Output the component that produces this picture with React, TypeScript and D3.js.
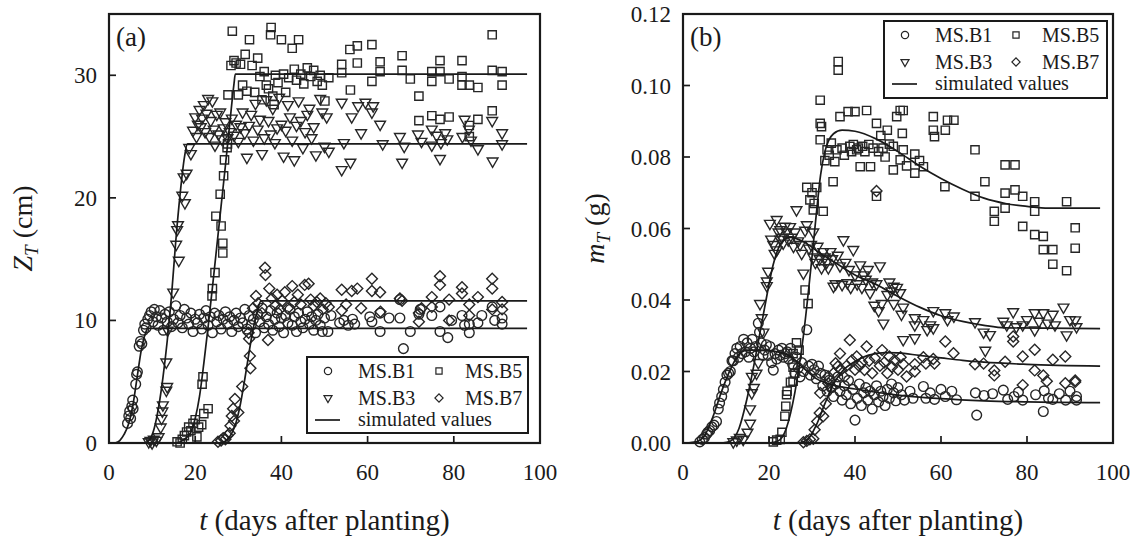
import React from 'react';
import * as d3 from 'd3';

// ---------- axes / ticks ----------
const tTicks = [0, 20, 40, 60, 80, 100];
const zTicks = [0, 10, 20, 30];
const mTicks = [0, 0.02, 0.04, 0.06, 0.08, 0.1, 0.12];
const seriesNames = ['MS.B1', 'MS.B3', 'MS.B5', 'MS.B7'];
const simLabel = 'simulated values';

// ---------- panel (a): Z_T (cm) observed ----------
const aB1: [number, number][] = [[4.3,1.6],[4.6,2.2],[4.8,2.6],[5.0,2.0],[5.3,3.0],[5.5,3.5],[5.6,2.8],[6.2,4.8],[6.4,5.6],[6.6,5.8],[7.0,7.9],[7.3,8.3],[7.6,8.1],[8.0,9.2],[8.3,9.7],[8.6,9.4],[9.0,10.1],[9.4,10.4],[9.8,10.7],[10.2,9.9],[10.5,10.9],[11.0,10.3],[11.4,9.6],[11.8,10.8],[12.2,10.2],[12.6,9.2],[13.0,10.5],[13.5,9.9],[14.0,10.7],[14.5,9.5],[15.0,10.1],[15.5,11.2],[16.0,9.8],[16.5,10.4],[17.0,9.4],[17.5,10.9],[18.0,10.2],[18.5,9.7],[19.0,10.6],[19.5,9.1],[20.0,10.1],[20.5,9.8],[21.0,10.5],[21.5,9.3],[22.0,10.2],[22.5,10.8],[23.0,9.6],[23.5,10.3],[24.0,9.0],[24.5,10.6],[25.0,9.9],[25.5,10.4],[26.0,9.3],[26.5,10.1],[27.0,10.7],[27.5,9.7],[28.0,10.3],[28.5,9.1],[29.0,10.0],[29.5,10.6],[30.0,9.5],[30.5,10.2],[31.0,9.8],[31.5,10.9],[32.0,9.3],[32.5,10.4],[33.0,9.6],[33.5,10.1],[34.0,9.0],[34.5,10.5],[35.0,9.9],[35.5,11.0],[36.0,9.4],[36.5,10.3],[37.0,9.7],[37.5,10.8],[38.0,9.2],[38.5,10.1],[39.0,10.6],[39.5,9.5],[40.0,10.2],[40.5,9.0],[41.0,10.4],[41.5,9.8],[42.0,10.9],[42.5,9.6],[43.0,10.3],[43.5,9.1],[44.0,10.6],[44.5,9.9],[45.0,9.4],[45.5,10.1],[46.0,10.7],[46.5,9.7],[47.0,10.3],[47.5,9.2],[48.0,10.0],[48.5,10.5],[49.0,9.6],[49.5,9.1],[50.0,10.2],[50.8,9.1],[51.5,10.4],[53.5,9.8],[54.5,10.0],[55.5,9.6],[56.5,10.1],[57.0,9.7],[60.5,10.3],[61.0,9.9],[62.9,9.1],[62.9,10.6],[65.0,10.2],[67.5,10.2],[67.5,11.7],[68.3,7.7],[69.9,9.1],[71.9,10.5],[72.2,10.9],[74.9,10.4],[76.8,11.1],[76.8,9.1],[78.6,8.6],[79.5,10.0],[81.9,10.4],[82.5,9.6],[83.6,9.7],[83.6,9.0],[85.6,9.8],[86.5,10.4],[88.9,11.1],[89.5,10.0],[91.2,9.7],[91.2,10.2]];
const aB3: [number, number][] = [[9.2,0.1],[9.6,0.2],[10.0,0.0],[10.4,0.3],[11.0,0.2],[11.5,0.5],[12.0,1.3],[12.2,2.0],[12.5,3.1],[12.4,2.6],[13.3,4.3],[13.5,4.6],[13.3,6.6],[13.6,9.2],[14.9,12.3],[15.6,16.2],[15.8,17.4],[16.0,17.8],[16.2,14.9],[17.0,20.2],[17.3,21.7],[17.6,19.6],[18.0,22.0],[18.6,24.1],[19.0,23.6],[19.5,25.5],[20.0,26.6],[20.3,25.0],[20.6,26.0],[21.0,27.2],[21.3,25.8],[21.6,26.5],[22.0,27.6],[22.3,25.4],[22.6,26.9],[23.0,28.1],[23.3,25.0],[23.6,26.3],[24.0,27.9],[24.3,25.6],[24.6,24.3],[25.0,26.8],[25.4,25.2],[25.8,27.0],[26.2,24.8],[26.6,25.7],[27.0,26.2],[27.5,24.9],[28.0,25.4],[28.5,26.5],[29.0,25.1],[29.5,26.0],[30.0,24.6],[30.5,25.8],[31.0,27.0],[31.5,25.3],[32.0,23.3],[32.5,25.9],[33.0,26.8],[33.5,24.7],[34.0,27.7],[34.5,25.6],[35.0,26.4],[35.5,23.6],[36.0,24.9],[36.5,28.0],[37.0,26.3],[37.5,25.2],[38.0,27.3],[38.5,24.5],[39.0,25.7],[39.5,28.2],[40.0,26.0],[40.5,23.4],[41.0,25.5],[41.5,27.6],[42.0,26.6],[42.5,24.7],[43.0,23.1],[43.5,25.9],[44.0,27.9],[44.5,26.3],[45.0,24.1],[45.5,25.4],[46.0,26.8],[46.5,27.3],[47.0,24.9],[47.5,25.8],[48.0,23.5],[49.0,28.1],[49.5,27.0],[50.0,24.2],[50.5,26.6],[51.0,23.8],[54.0,27.8],[54.0,22.3],[54.5,24.5],[56.0,22.9],[56.3,26.6],[57.8,27.5],[58.5,25.3],[59.5,27.8],[61.0,27.0],[61.3,27.5],[62.9,26.0],[63.5,24.4],[67.5,25.0],[68.0,22.9],[68.5,24.2],[71.7,25.2],[72.5,24.6],[74.9,25.6],[74.9,24.3],[76.0,25.1],[76.8,23.2],[77.0,24.5],[78.0,25.3],[78.5,24.8],[82.0,25.0],[82.5,26.4],[83.5,25.6],[84.0,24.7],[85.6,24.0],[88.9,26.3],[89.0,23.0],[91.2,25.3],[91.2,24.4]];
const aB5: [number, number][] = [[15.8,0.1],[16.5,0.0],[17.0,0.3],[17.5,0.6],[18.0,0.9],[18.5,1.3],[19.0,1.0],[19.5,1.6],[20.0,1.9],[20.4,0.5],[20.8,1.3],[21.5,1.5],[21.6,4.8],[21.8,5.4],[22.0,2.4],[23.0,2.8],[23.9,12.0],[24.0,12.6],[24.6,13.9],[24.8,18.5],[25.8,20.3],[26.0,17.7],[26.4,16.3],[26.4,15.5],[26.6,21.8],[26.8,23.1],[27.4,24.1],[27.5,24.4],[27.6,28.4],[28.3,30.8],[28.6,33.6],[29.0,31.2],[29.5,31.0],[30.0,28.4],[30.5,30.9],[31.0,29.2],[31.6,31.7],[32.0,28.7],[32.6,32.9],[33.2,30.8],[33.8,28.6],[34.5,31.4],[35.0,29.9],[35.5,28.0],[36.0,30.3],[36.5,29.2],[37.0,28.9],[37.5,33.3],[37.6,33.9],[38.0,28.3],[38.3,27.6],[38.6,30.0],[39.2,29.4],[40.0,32.9],[40.5,30.1],[41.0,28.6],[41.7,29.8],[42.5,32.2],[43.0,30.5],[43.5,29.6],[44.0,32.9],[44.5,30.1],[45.2,29.3],[46.0,30.6],[46.8,29.9],[47.5,30.4],[48.3,29.5],[49.0,30.0],[49.5,29.2],[50.1,27.9],[51.0,29.8],[54.0,30.9],[54.0,30.2],[55.9,32.1],[56.0,28.8],[57.6,32.4],[57.6,31.0],[61.0,32.5],[61.0,29.5],[62.9,31.1],[62.9,30.3],[68.0,31.6],[68.0,30.4],[69.9,29.7],[71.9,28.3],[71.9,26.3],[74.9,29.5],[74.9,30.3],[74.9,26.7],[76.8,31.2],[76.8,30.3],[76.8,26.4],[78.9,29.7],[78.9,26.6],[81.9,31.2],[81.9,29.9],[81.9,29.2],[83.6,29.2],[83.6,25.9],[83.6,25.0],[85.6,29.0],[85.6,26.4],[88.9,33.3],[88.9,30.4],[88.9,27.1],[91.2,30.3],[91.2,29.2]];
const aB7: [number, number][] = [[25.3,0.1],[26.0,0.2],[26.5,0.4],[27.0,0.3],[27.5,0.6],[28.0,0.8],[28.2,1.4],[28.5,2.2],[28.8,2.8],[29.0,1.8],[29.2,3.6],[30.0,2.5],[30.9,4.6],[32.4,9.0],[32.5,8.5],[32.7,7.1],[32.8,6.1],[33.4,11.0],[34.1,12.0],[34.6,11.4],[35.5,10.6],[36.2,14.3],[36.3,13.7],[36.9,8.4],[37.2,12.6],[37.8,11.8],[38.5,11.2],[39.0,12.1],[39.6,10.9],[40.2,11.6],[40.8,12.3],[41.5,11.0],[42.5,12.8],[43.0,11.5],[43.8,12.1],[44.5,11.3],[45.4,12.9],[46.3,13.0],[46.8,11.7],[47.5,11.2],[48.2,11.5],[49.0,11.8],[49.6,10.9],[50.3,11.4],[51.0,11.1],[54.0,12.5],[54.0,10.8],[55.0,11.3],[56.3,12.4],[57.6,12.6],[58.5,11.0],[61.0,13.4],[61.0,12.4],[62.9,12.3],[63.0,10.7],[67.5,11.8],[68.0,11.6],[71.9,10.6],[71.9,9.9],[72.5,11.0],[74.9,11.9],[74.9,11.1],[76.8,13.6],[76.8,12.9],[78.9,11.7],[78.9,10.0],[81.9,12.7],[81.9,12.2],[83.6,11.3],[83.6,10.4],[85.6,11.9],[88.9,13.4],[88.9,12.6],[88.9,10.9],[91.2,10.9],[91.2,11.5]];

// ---------- panel (a): simulated ----------
const aSimB1: [number, number][] = [[1.4,0],[2.5,0.2],[3.5,0.7],[4.5,1.5],[5.5,3.0],[6.5,5.3],[7.5,7.6],[8.5,9.0],[9.0,9.35],[97,9.35]];
const aSimB3: [number, number][] = [[8.4,0],[9.5,0.3],[10.5,1.2],[11.5,2.9],[12.5,5.3],[13.5,8.3],[14.5,12],[15.5,16.5],[16.5,20.3],[17.5,23.3],[18.2,24.4],[97,24.4]];
const aSimB5: [number, number][] = [[15.7,0],[17.5,0.3],[19,0.9],[20,2],[21,3.8],[22,6.5],[23,9.5],[24,12.7],[25,16],[26,19.3],[27,22.6],[28,26],[29,29.3],[29.3,30.1],[97,30.1]];
const aSimB7: [number, number][] = [[26,0],[27.5,0.3],[28.5,0.8],[29.5,1.7],[30.5,3.2],[31.5,5.2],[32.5,7.4],[33.5,9.4],[34.5,10.9],[35.3,11.6],[97,11.6]];

// ---------- panel (b): m_T (g) observed ----------
const bB1: [number, number][] = [[3.9,0.0003],[4.5,0.001],[5.0,0.0015],[5.5,0.0025],[5.8,0.003],[6.2,0.0035],[6.7,0.0045],[7.2,0.005],[7.8,0.006],[8.2,0.0095],[8.5,0.0112],[9.0,0.013],[9.4,0.015],[9.8,0.017],[10.2,0.019],[10.6,0.0195],[11.0,0.020],[11.4,0.023],[11.7,0.023],[12.1,0.025],[12.5,0.0265],[12.9,0.024],[13.3,0.027],[13.7,0.025],[14.1,0.029],[14.5,0.0255],[14.9,0.028],[15.3,0.024],[15.7,0.0265],[16.1,0.029],[16.5,0.0255],[16.9,0.027],[17.5,0.0335],[17.8,0.031],[18.2,0.028],[18.6,0.0245],[19.0,0.026],[19.4,0.0275],[19.8,0.0245],[20.2,0.027],[20.6,0.0225],[21.0,0.0204],[21.4,0.025],[21.8,0.0235],[22.2,0.026],[22.6,0.0245],[23.0,0.0265],[23.4,0.024],[23.8,0.025],[24.2,0.0255],[24.6,0.0235],[25.0,0.0265],[25.5,0.022],[26.0,0.0195],[26.4,0.024],[26.8,0.021],[27.2,0.0185],[27.6,0.0225],[28.0,0.02],[28.8,0.0317],[29.2,0.0215],[29.6,0.019],[30.0,0.022],[30.5,0.0205],[31.0,0.018],[31.5,0.0215],[32.0,0.0195],[32.5,0.016],[33.0,0.019],[33.5,0.0145],[34.0,0.0175],[34.5,0.0155],[35.0,0.013],[35.5,0.0165],[36.0,0.0185],[36.5,0.0145],[37.0,0.012],[37.5,0.016],[38.0,0.0135],[38.5,0.0175],[39.0,0.011],[39.5,0.015],[40.0,0.0064],[40.5,0.0125],[41.0,0.0165],[41.5,0.0105],[42.0,0.014],[42.5,0.0155],[43.0,0.012],[43.5,0.0145],[44.0,0.0095],[44.5,0.0135],[45.0,0.016],[45.5,0.0115],[46.0,0.0145],[46.5,0.013],[47.0,0.0105],[47.5,0.015],[48.0,0.0125],[48.5,0.0165],[49.0,0.014],[49.5,0.0118],[50.0,0.0155],[50.8,0.0135],[51.5,0.012],[52.8,0.0145],[53.5,0.0125],[55.9,0.0158],[56.5,0.0125],[57.5,0.014],[58.5,0.0122],[60.0,0.015],[61.0,0.013],[62.5,0.0145],[63.6,0.0121],[68.0,0.014],[68.3,0.0078],[70.0,0.0133],[72.0,0.0138],[74.5,0.0148],[75.5,0.0122],[77.0,0.013],[78.0,0.0142],[79.0,0.012],[82.0,0.0135],[83.8,0.0088],[84.0,0.0146],[85.0,0.0125],[86.0,0.0122],[87.5,0.0138],[89.0,0.012],[90.0,0.0145],[91.5,0.013],[91.5,0.012]];
const bB3: [number, number][] = [[11.7,0.0003],[12.5,0.0008],[13.2,0.0015],[14.0,0.001],[15.0,0.003],[15.6,0.0055],[15.6,0.0095],[16.0,0.014],[16.0,0.0186],[16.5,0.0155],[17.1,0.0195],[17.5,0.0225],[17.9,0.039],[18.3,0.035],[18.7,0.031],[19.5,0.044],[19.5,0.0453],[19.8,0.048],[20.2,0.0614],[20.5,0.057],[21.0,0.0555],[21.3,0.053],[21.8,0.054],[21.8,0.0625],[22.2,0.059],[22.6,0.057],[22.6,0.0596],[23.0,0.0575],[23.3,0.0559],[23.7,0.0606],[24.1,0.059],[24.5,0.0568],[24.9,0.0605],[25.3,0.0575],[25.7,0.055],[26.0,0.059],[26.4,0.0652],[26.8,0.0565],[27.2,0.0555],[27.6,0.053],[28.0,0.0475],[28.4,0.0595],[28.8,0.061],[29.3,0.0545],[29.8,0.0555],[30.3,0.059],[30.3,0.052],[30.8,0.0505],[31.3,0.055],[31.8,0.0515],[32.2,0.049],[32.6,0.0535],[33.0,0.052],[33.4,0.0505],[33.8,0.049],[34.3,0.0535],[34.7,0.0515],[35.0,0.0438],[35.5,0.0445],[36.0,0.0525],[36.5,0.0495],[37.0,0.0443],[37.3,0.0568],[37.8,0.0505],[38.2,0.0448],[38.6,0.0485],[39.0,0.0435],[39.6,0.0541],[40.0,0.047],[40.5,0.0445],[41.2,0.0498],[41.6,0.0435],[42.0,0.047],[42.5,0.0458],[43.0,0.0485],[43.5,0.042],[44.0,0.045],[44.5,0.0385],[45.0,0.0445],[45.5,0.037],[45.8,0.0495],[46.2,0.039],[46.6,0.0335],[47.5,0.0415],[48.0,0.045],[48.5,0.0425],[49.0,0.039],[49.0,0.0438],[49.8,0.0435],[50.5,0.042],[50.8,0.036],[51.2,0.038],[51.2,0.0289],[53.9,0.035],[53.9,0.033],[53.9,0.0294],[55.9,0.0345],[56.8,0.0317],[57.5,0.033],[58.2,0.037],[58.2,0.0322],[61.0,0.0364],[61.5,0.0345],[63.0,0.0355],[67.9,0.0339],[69.9,0.031],[70.3,0.0259],[71.4,0.0303],[74.5,0.034],[75.3,0.033],[76.8,0.0367],[77.5,0.0325],[79.0,0.033],[80.0,0.0345],[81.8,0.0364],[81.8,0.0316],[82.8,0.034],[83.8,0.0364],[84.8,0.0335],[86.0,0.036],[86.5,0.033],[88.5,0.038],[89.2,0.0302],[90.0,0.0345],[91.2,0.0344],[91.5,0.0325]];
const bB5: [number, number][] = [[21.0,0.0003],[21.8,0.0008],[22.6,0.001],[23.0,0.003],[23.7,0.0075],[23.9,0.0103],[24.1,0.0135],[24.2,0.0145],[25.0,0.017],[25.6,0.0173],[25.6,0.0212],[25.6,0.025],[26.0,0.0195],[26.4,0.028],[27.0,0.026],[28.4,0.0428],[29.1,0.039],[28.8,0.0715],[29.5,0.068],[30.0,0.07],[30.3,0.0652],[30.5,0.067],[31.1,0.0715],[31.9,0.0959],[31.9,0.0894],[31.9,0.0848],[32.2,0.0885],[32.6,0.0648],[33.0,0.079],[33.5,0.082],[34.0,0.0805],[34.9,0.0731],[34.5,0.0839],[35.3,0.0787],[35.8,0.082],[36.1,0.1043],[36.1,0.1067],[36.5,0.0913],[37.0,0.0825],[37.5,0.0805],[38.4,0.0927],[38.8,0.083],[39.2,0.0815],[39.6,0.0835],[40.0,0.0927],[40.4,0.082],[40.8,0.0825],[41.2,0.0773],[41.8,0.083],[42.3,0.0815],[42.7,0.093],[43.2,0.0835],[43.6,0.0773],[44.2,0.0825],[45.0,0.069],[45.0,0.0894],[45.5,0.0815],[46.0,0.086],[46.5,0.0825],[47.0,0.08],[47.5,0.0875],[48.0,0.0836],[48.9,0.083],[48.9,0.0764],[49.7,0.0913],[50.5,0.093],[50.5,0.0792],[51.2,0.093],[51.0,0.0866],[51.2,0.082],[52.0,0.0775],[53.9,0.0808],[53.9,0.0755],[55.0,0.079],[55.9,0.0773],[58.2,0.0913],[58.2,0.0875],[58.5,0.0857],[61.0,0.0875],[61.5,0.0903],[63.0,0.0903],[60.9,0.0717],[67.9,0.082],[67.9,0.069],[70.2,0.0731],[72.4,0.0648],[72.4,0.062],[74.9,0.0778],[74.9,0.0699],[74.9,0.0657],[77.2,0.0778],[77.2,0.0708],[79.0,0.069],[79.0,0.0606],[81.8,0.0675],[81.8,0.0648],[81.8,0.0583],[83.8,0.0578],[83.8,0.0541],[86.0,0.0541],[86.0,0.05],[89.2,0.0675],[89.2,0.0482],[91.2,0.0602],[91.2,0.0545]];
const bB7: [number, number][] = [[28.0,0.0002],[28.8,0.0006],[29.5,0.001],[30.3,0.0012],[30.6,0.0037],[31.2,0.006],[31.8,0.0084],[31.9,0.014],[32.6,0.0075],[33.2,0.011],[33.8,0.0167],[33.8,0.0186],[34.5,0.0155],[35.0,0.0195],[35.5,0.0223],[36.0,0.0214],[36.5,0.025],[36.8,0.0205],[37.5,0.0185],[38.0,0.0215],[38.8,0.0288],[39.3,0.0232],[40.0,0.0205],[40.4,0.0242],[41.0,0.0215],[41.6,0.0225],[42.2,0.0204],[42.7,0.027],[43.3,0.023],[44.0,0.0195],[44.6,0.0238],[45.0,0.0705],[45.8,0.0216],[46.3,0.026],[46.8,0.0225],[47.5,0.0195],[48.0,0.0242],[48.6,0.0213],[49.2,0.0232],[50.0,0.0205],[50.6,0.024],[51.2,0.022],[52.0,0.0186],[53.9,0.02],[53.9,0.022],[55.9,0.024],[56.5,0.0222],[58.2,0.0235],[58.5,0.0222],[61.0,0.0284],[62.9,0.0251],[67.9,0.022],[69.9,0.0222],[72.4,0.0189],[72.4,0.0203],[74.9,0.0227],[76.8,0.0284],[76.8,0.0298],[79.0,0.0242],[79.0,0.0162],[81.8,0.0261],[81.8,0.0203],[83.8,0.0189],[84.6,0.0173],[86.0,0.0233],[88.9,0.0242],[88.9,0.0167],[91.2,0.0171],[91.2,0.0175]];

// ---------- panel (b): simulated ----------
const bSimB1: [number, number][] = [[1,0],[3,0.0003],[5,0.002],[7,0.0075],[9,0.0145],[11,0.0205],[13,0.0248],[15,0.026],[18,0.026],[22,0.0255],[25,0.0242],[28,0.021],[31,0.018],[35,0.0162],[40,0.0151],[50,0.0134],[60,0.0124],[70,0.0118],[80,0.0115],[97,0.0113]];
const bSimB3: [number, number][] = [[9,0],[11,0.0005],[13,0.004],[15,0.013],[17,0.025],[19,0.038],[21,0.05],[23,0.0562],[25,0.0575],[28,0.0563],[32,0.053],[36,0.05],[40,0.047],[45,0.0443],[50,0.041],[55,0.038],[60,0.0356],[65,0.034],[70,0.0329],[75,0.0322],[97,0.032]];
const bSimB5: [number, number][] = [[20,0],[22,0.0005],[24,0.004],[26,0.014],[28,0.03],[30,0.052],[31,0.064],[32,0.075],[33,0.0815],[35,0.0865],[37,0.0875],[40,0.0872],[45,0.085],[50,0.0815],[55,0.0775],[60,0.074],[65,0.071],[70,0.0685],[75,0.067],[80,0.0662],[85,0.0657],[97,0.0657]];
const bSimB7: [number, number][] = [[27,0],[29,0.001],[31,0.005],[33,0.011],[35,0.0165],[37,0.02],[40,0.0228],[43,0.0245],[47,0.0253],[50,0.0252],[55,0.0245],[60,0.0238],[65,0.0231],[70,0.0226],[80,0.022],[97,0.0215]];

// ---------- drawing ----------
const W = 1142;
const H = 544;
const FONT = '"Liberation Serif", "Times New Roman", serif';
const INK = '#1a1a1a';
const MARK = '#262626';

type Kind = 'circle' | 'tri' | 'square' | 'diamond';
const kinds: Kind[] = ['circle', 'tri', 'square', 'diamond'];

function symbolPath(kind: Kind, scale = 1): { d: string; rot: number } {
  if (kind === 'circle') return { d: d3.symbol(d3.symbolCircle, 74 * scale * scale)()!, rot: 0 };
  if (kind === 'square') return { d: d3.symbol(d3.symbolSquare, 68 * scale * scale)()!, rot: 0 };
  if (kind === 'tri') return { d: d3.symbol(d3.symbolTriangle, 50 * scale * scale)()!, rot: 180 };
  return { d: d3.symbol(d3.symbolSquare, 60 * scale * scale)()!, rot: 45 };
}

interface PanelProps {
  x0: number; x1: number; yTop: number; yBot: number;
  yDomain: [number, number];
  yTicks: number[];
  yFmt: (v: number) => string;
  series: [number, number][][];
  sims: [number, number][][];
  tag: string;
  yVar: string;
  yUnit: string;
  yLabelX: number;
  legend: { x: number; y: number; w: number; h: number };
}

function Panel(p: PanelProps) {
  const x = d3.scaleLinear().domain([0, 100]).range([p.x0, p.x1]);
  const y = d3.scaleLinear().domain(p.yDomain).range([p.yBot, p.yTop]);
  const line = d3.line<[number, number]>().x(d => x(d[0])).y(d => y(d[1])).curve(d3.curveMonotoneX);
  const tick = 7;
  const cx = (p.x0 + p.x1) / 2;
  const cy = (p.yTop + p.yBot) / 2;
  const L = p.legend;
  const r1 = L.y + 14, r2 = L.y + 41, r3 = L.y + 63;
  const c1s = L.x + 21, c1t = L.x + 51, c2s = L.x + 132, c2t = L.x + 158;
  const legendItems: { kind: Kind; name: string; sx: number; tx: number; ry: number }[] = [
    { kind: 'circle', name: seriesNames[0], sx: c1s, tx: c1t, ry: r1 },
    { kind: 'square', name: seriesNames[2], sx: c2s, tx: c2t, ry: r1 },
    { kind: 'tri', name: seriesNames[1], sx: c1s, tx: c1t, ry: r2 },
    { kind: 'diamond', name: seriesNames[3], sx: c2s, tx: c2t, ry: r2 },
  ];
  return (
    <g>
      {p.series.map((s, i) => {
        const sp = symbolPath(kinds[i]);
        return (
          <g key={'s' + i} fill="none" stroke={MARK} strokeWidth={1.4}>
            {s.map((d, j) => (
              <path key={j} d={sp.d} transform={`translate(${x(d[0]).toFixed(1)},${y(d[1]).toFixed(1)}) rotate(${sp.rot})`} />
            ))}
          </g>
        );
      })}
      {p.sims.map((s, i) => (
        <path key={'l' + i} d={line(s)!} fill="none" stroke={INK} strokeWidth={1.7} />
      ))}
      <rect x={p.x0} y={p.yTop} width={p.x1 - p.x0} height={p.yBot - p.yTop} fill="none" stroke={INK} strokeWidth={2.2} />
      {tTicks.map(t => (
        <g key={'xt' + t}>
          {t > 0 && t < 100 && <line x1={x(t)} x2={x(t)} y1={p.yBot} y2={p.yBot - tick} stroke={INK} strokeWidth={1.7} />}
          <text x={x(t)} y={p.yBot + 37} textAnchor="middle" fontFamily={FONT} fontSize={23} fill={INK}>{t}</text>
        </g>
      ))}
      {p.yTicks.map(v => (
        <g key={'yt' + v}>
          {y(v) > p.yTop + 1 && y(v) < p.yBot - 1 && <line x1={p.x0} x2={p.x0 + tick} y1={y(v)} y2={y(v)} stroke={INK} strokeWidth={1.7} />}
          <text x={p.x0 - 12} y={y(v)} dy="0.35em" textAnchor="end" fontFamily={FONT} fontSize={23} fill={INK}>{p.yFmt(v)}</text>
        </g>
      ))}
      <text x={p.x0 + 7} y={p.yTop + 32} fontFamily={FONT} fontSize={27} fill={INK}>{p.tag}</text>
      <text x={cx} y={530} textAnchor="middle" fontFamily={FONT} fontSize={29} fill={INK}>
        <tspan fontStyle="italic">t</tspan> (days after planting)
      </text>
      <text transform={`translate(${p.yLabelX},${cy}) rotate(-90)`} textAnchor="middle" fontFamily={FONT} fontSize={28} fill={INK}>
        <tspan fontStyle="italic">{p.yVar}</tspan>
        <tspan fontStyle="italic" fontSize={19} dy={6}>T</tspan>
        <tspan dy={-6}>{' ' + p.yUnit}</tspan>
      </text>
      <rect x={L.x} y={L.y} width={L.w} height={L.h} fill="#fff" stroke={INK} strokeWidth={2} />
      {legendItems.map((it, i) => {
        const sp = symbolPath(it.kind, 0.75);
        return (
          <g key={'lg' + i}>
            <path d={sp.d} transform={`translate(${it.sx},${it.ry}) rotate(${sp.rot})`} fill="none" stroke={MARK} strokeWidth={1.2} />
            <text x={it.tx} y={it.ry} dy="0.35em" fontFamily={FONT} fontSize={20} fill={INK}>{it.name}</text>
          </g>
        );
      })}
      <line x1={L.x + 8} x2={L.x + 33} y1={r3} y2={r3} stroke={INK} strokeWidth={1.7} />
      <text x={c1t} y={r3} dy="0.3em" fontFamily={FONT} fontSize={20} fill={INK}>{simLabel}</text>
    </g>
  );
}

export default function App() {
  return (
    <svg width={W} height={H} viewBox={`0 0 ${W} ${H}`} style={{ position: 'absolute', left: 0, top: 0, background: '#fff' }}>
      <rect width={W} height={H} fill="#fff" />
      <Panel
        x0={109} x1={540} yTop={14} yBot={443}
        yDomain={[0, 35]} yTicks={zTicks} yFmt={v => String(v)}
        series={[aB1, aB3, aB5, aB7]} sims={[aSimB1, aSimB3, aSimB5, aSimB7]}
        tag="(a)" yVar="Z" yUnit="(cm)" yLabelX={32}
        legend={{ x: 307, y: 357, w: 221, h: 76 }}
      />
      <Panel
        x0={683} x1={1113} yTop={14} yBot={443}
        yDomain={[0, 0.12]} yTicks={mTicks} yFmt={v => v.toFixed(2)}
        series={[bB1, bB3, bB5, bB7]} sims={[bSimB1, bSimB3, bSimB5, bSimB7]}
        tag="(b)" yVar="m" yUnit="(g)" yLabelX={604}
        legend={{ x: 884, y: 21, w: 223, h: 77 }}
      />
    </svg>
  );
}
